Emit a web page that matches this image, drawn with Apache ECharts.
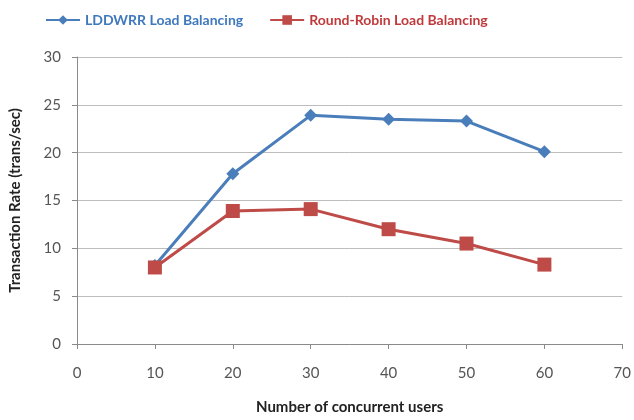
<!DOCTYPE html>
<html>
<head>
<meta charset="utf-8">
<script src="https://cdn.jsdelivr.net/npm/echarts@6/dist/echarts.min.js"></script>
<style>
  html, body { margin: 0; padding: 0; background: #fff; }
  #chart { width: 634px; height: 420px; }
</style>
</head>
<body>
<div id="chart"></div>
<script>
  // concurrent users on the x axis
  const users = [10, 20, 30, 40, 50, 60];
  // transaction rates (trans/sec)
  const lddwrr = [8.2, 17.8, 23.9, 23.5, 23.3, 20.1];
  const roundRobin = [8.0, 13.9, 14.1, 12.0, 10.5, 8.3];

  const font = 'Lato, "Open Sans", sans-serif';
  const pairs = vals => users.map((u, i) => [u, vals[i]]);

  const chart = echarts.init(document.getElementById('chart'));
  chart.setOption({
    animation: false,
    textStyle: { fontFamily: font },
    legend: {
      top: 8,
      left: 40,
      itemGap: 26,
      itemWidth: 34,
      itemHeight: 12,
      textStyle: { fontFamily: font, fontSize: 14, fontWeight: 'bold' },
      data: [
        { name: 'LDDWRR Load Balancing', textStyle: { color: '#3f78bd' } },
        { name: 'Round-Robin Load Balancing', textStyle: { color: '#c0393b' } }
      ]
    },
    grid: { left: 76, right: 10, top: 57, bottom: 75 },
    xAxis: {
      type: 'value',
      min: 0,
      max: 70,
      interval: 10,
      name: 'Number of concurrent users',
      nameLocation: 'middle',
      nameGap: 56,
      nameTextStyle: { fontFamily: font, fontSize: 15, fontWeight: 'bold', color: '#222' },
      axisLine: { lineStyle: { color: '#8a8a8a' } },
      axisTick: { show: true, length: 5, lineStyle: { color: '#8a8a8a' } },
      axisLabel: { fontSize: 15, color: '#555', margin: 22 },
      splitLine: { show: false }
    },
    yAxis: {
      type: 'value',
      min: 0,
      max: 30,
      interval: 5,
      name: 'Transaction Rate (trans/sec)',
      nameLocation: 'middle',
      nameGap: 54,
      nameTextStyle: { fontFamily: font, fontSize: 15, fontWeight: 'bold', color: '#222' },
      axisLine: { show: true, lineStyle: { color: '#8a8a8a' } },
      axisTick: { show: true, length: 5, lineStyle: { color: '#8a8a8a' } },
      axisLabel: { fontSize: 15, color: '#555', margin: 16 },
      splitLine: { lineStyle: { color: '#bdbdbd' } }
    },
    series: [
      {
        name: 'LDDWRR Load Balancing',
        type: 'line',
        data: pairs(lddwrr),
        symbol: 'diamond',
        symbolSize: 13,
        color: '#4a7ebb',
        lineStyle: { width: 3 },
        z: 2
      },
      {
        name: 'Round-Robin Load Balancing',
        type: 'line',
        data: pairs(roundRobin),
        symbol: 'rect',
        symbolSize: 14,
        color: '#be4b48',
        lineStyle: { width: 3 },
        z: 3
      }
    ]
  });
</script>
</body>
</html>
